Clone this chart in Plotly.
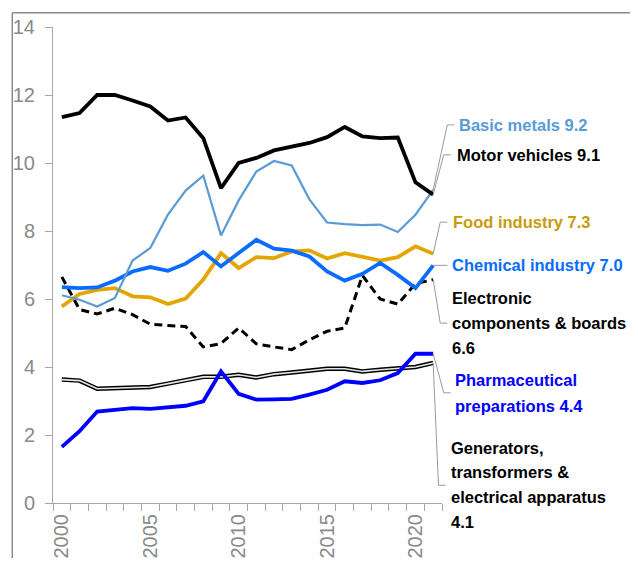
import plotly.graph_objects as go

years = list(range(2000, 2022))

motor_vehicles = [11.35, 11.47, 12.0, 12.0, 11.84, 11.66, 11.25, 11.34, 10.73, 9.26, 10.0,
                  10.15, 10.37, 10.49, 10.59, 10.76, 11.06, 10.78, 10.73, 10.75, 9.43, 9.07]
basic_metals = [6.11, 5.98, 5.78, 6.03, 7.13, 7.5, 8.48, 9.19, 9.63, 7.87, 8.9,
                9.75, 10.06, 9.93, 8.93, 8.25, 8.2, 8.17, 8.19, 7.97, 8.48, 9.21]
food_industry = [5.78, 6.15, 6.27, 6.32, 6.08, 6.05, 5.85, 6.01, 6.57, 7.35, 6.91,
                 7.23, 7.2, 7.4, 7.43, 7.19, 7.35, 7.25, 7.13, 7.23, 7.55, 7.33]
chemical_industry = [6.35, 6.32, 6.34, 6.54, 6.81, 6.94, 6.83, 7.04, 7.38, 6.96, 7.35,
                     7.74, 7.48, 7.42, 7.25, 6.81, 6.54, 6.74, 7.06, 6.71, 6.32, 6.99]
electronic = [6.65, 5.69, 5.56, 5.73, 5.54, 5.26, 5.22, 5.19, 4.59, 4.69, 5.15,
              4.68, 4.59, 4.51, 4.8, 5.05, 5.15, 6.69, 6.0, 5.85, 6.45, 6.57]
pharma = [1.65, 2.11, 2.69, 2.74, 2.79, 2.77, 2.82, 2.86, 2.99, 3.87, 3.21,
          3.04, 3.05, 3.06, 3.19, 3.33, 3.58, 3.53, 3.61, 3.82, 4.39, 4.39]
generators = [3.63, 3.6, 3.36, 3.37, 3.39, 3.41, 3.51, 3.61, 3.71, 3.71, 3.77,
              3.69, 3.79, 3.84, 3.9, 3.95, 3.95, 3.87, 3.92, 3.97, 4.0, 4.12]

x_ticks = [2000, 2005, 2010, 2015, 2020]

X0, X1 = 1999.5, 2021.5
Y0, Y1 = 0, 14


def px_(x):
    return (x - X0) / (X1 - X0)


def py_(y):
    return (y - Y0) / (Y1 - Y0)


fig = go.Figure()

fig.add_trace(go.Scatter(x=years, y=generators, mode="lines",
                         line=dict(color="black", width=4.5)))
fig.add_trace(go.Scatter(x=years, y=generators, mode="lines",
                         line=dict(color="#e6e6e6", width=1.6)))
fig.add_trace(go.Scatter(x=years, y=pharma, mode="lines",
                         line=dict(color="#0000ff", width=3.8)))
fig.add_trace(go.Scatter(x=years, y=electronic, mode="lines",
                         line=dict(color="black", width=3, dash="8px,5px")))
fig.add_trace(go.Scatter(x=years, y=food_industry, mode="lines",
                         line=dict(color="#e3a600", width=3.8)))
fig.add_trace(go.Scatter(x=years, y=chemical_industry, mode="lines",
                         line=dict(color="#0a6cff", width=3.8)))
fig.add_trace(go.Scatter(x=years, y=basic_metals, mode="lines",
                         line=dict(color="#5b9bd5", width=2.2)))
fig.add_trace(go.Scatter(x=years, y=motor_vehicles, mode="lines",
                         line=dict(color="black", width=3.8)))

# leader lines: (end value, elbow x, label y, end x of horizontal)
leaders = [
    (basic_metals[-1], 2021.8, 11.12, 2022.2),
    (motor_vehicles[-1], 2021.6, 10.24, 2022.0),
    (food_industry[-1], 2021.4, 8.26, 2021.8),
    (chemical_industry[-1], 2021.8, chemical_industry[-1], 2021.8),
    (electronic[-1], 2021.4, 5.29, 2021.8),
    (pharma[-1], 2021.6, 3.24, 2022.0),
    (generators[-1], 2021.3, 0.52, 2021.7),
]
shapes = []
for v, ex, ly, hx in leaders:
    path = (f"M {px_(2021)},{py_(v)} L {px_(ex)},{py_(ly)} L {px_(hx)},{py_(ly)}")
    shapes.append(dict(type="path", xref="paper", yref="paper", path=path,
                       line=dict(color="#9a9a9a", width=1)))

# outer frame (top and left)
fx = (12 - 52.7) / 389
fy_top = (503.3 - 13) / 476
fy_bot = (503.3 - 575) / 476
shapes.append(dict(type="line", xref="paper", yref="paper",
                   x0=fx, x1=fx, y0=fy_bot, y1=fy_top,
                   line=dict(color="#8a8a8a", width=1.5)))
shapes.append(dict(type="line", xref="paper", yref="paper",
                   x0=fx, x1=1.6, y0=fy_top, y1=fy_top,
                   line=dict(color="#8a8a8a", width=1.5)))

labels = [
    ("Basic metals 9.2", "#5b9bd5", 2022.37, [11.12]),
    ("Motor vehicles 9.1", "black", 2022.24, [10.24]),
    ("Food industry 7.3", "#c99a0b", 2021.99, [8.26]),
    ("Chemical industry 7.0", "#0a6cff", 2021.98, [6.99]),
    ("Electronic|components & boards|6.6", "black", 2021.98, [6.03, 5.29, 4.55]),
    ("Pharmaceutical|preparations 4.4", "#0000ff", 2022.14, [3.63, 2.86]),
    ("Generators,|transformers &|electrical apparatus|4.1", "black", 2021.9,
     [1.62, 0.9, 0.17, -0.57]),
]
annotations = []
for text, color, lx, ys in labels:
    for line, ly in zip(text.split("|"), ys):
        annotations.append(dict(x=px_(lx), y=py_(ly), xref="paper", yref="paper",
                                text=line, showarrow=False, xanchor="left",
                                yanchor="middle", align="left",
                                font=dict(family="Liberation Sans, Arial", size=16.5,
                                          color=color, weight="bold")))

tick_font = dict(family="Liberation Sans Narrow, Arial Narrow, Liberation Sans",
                 size=20, color="#898989")

# the page body has an 8px margin: keep the figure inside the window so no scrollbar shows
fig.update_layout(
    width=630, height=550,
    margin=dict(l=44.7, r=196.3, t=19.3, b=54.7),
    plot_bgcolor="white", paper_bgcolor="white",
    showlegend=False,
    shapes=shapes,
    annotations=annotations,
    xaxis=dict(range=[X0, X1], tickvals=x_ticks, ticks="", tickangle=-90,
               automargin=False,
               showgrid=False, zeroline=False, showline=True,
               linecolor="#a6a6a6", linewidth=1,
               tickfont=tick_font, ticklabelstandoff=2,
               minor=dict(tick0=X0, dtick=1, ticks="outside", ticklen=7,
                          tickcolor="#a6a6a6", tickwidth=1, showgrid=False)),
    yaxis=dict(range=[Y0, Y1], dtick=2, ticks="outside", ticklen=7,
               automargin=False,
               tickcolor="#a6a6a6", showgrid=False, zeroline=False,
               showline=True, linecolor="#a6a6a6", linewidth=1,
               tickfont=tick_font, ticklabelstandoff=6),
)

fig.write_html("out.html")
